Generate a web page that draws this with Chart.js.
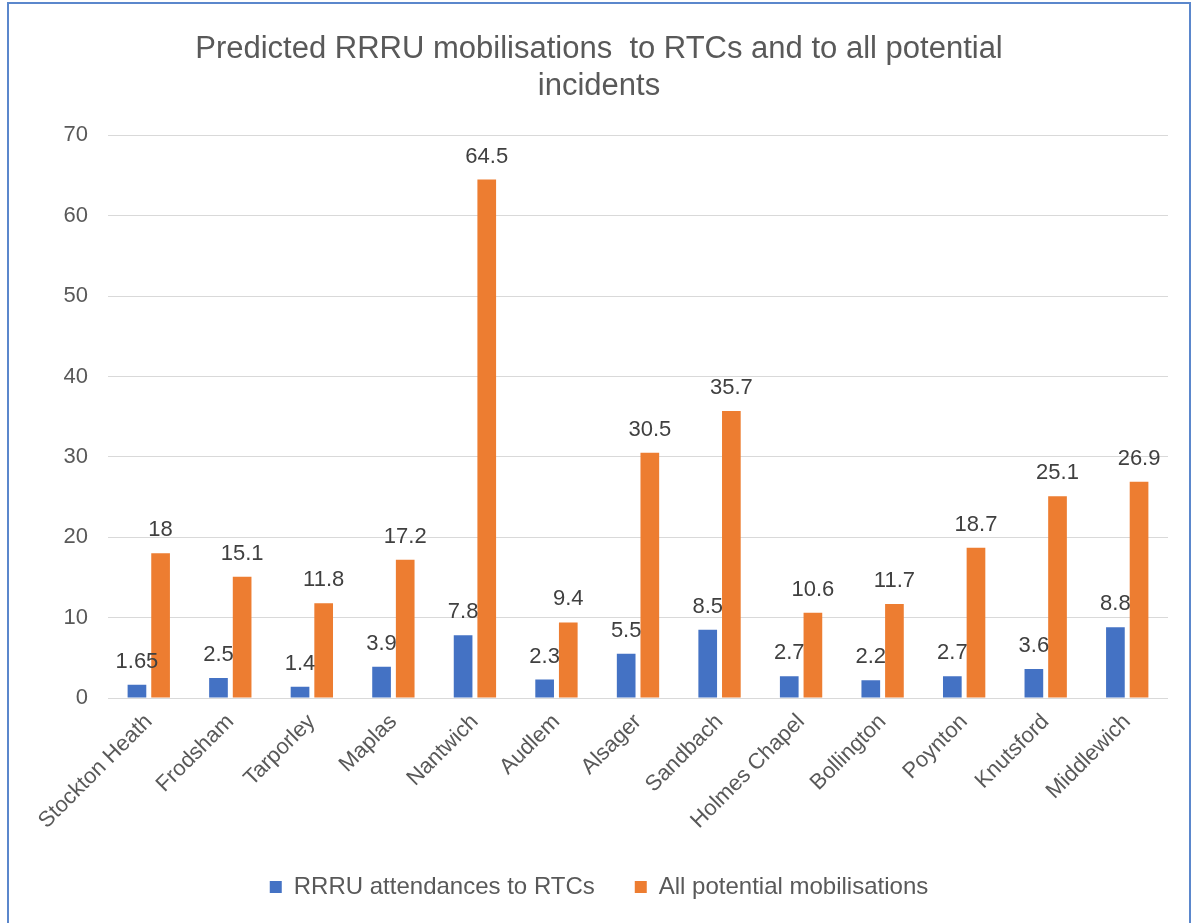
<!DOCTYPE html>
<html>
<head>
<meta charset="utf-8">
<script src="https://cdn.jsdelivr.net/npm/chart.js@4"></script>
<style>
  body { margin: 0; background: #fff; overflow: hidden; }
  #frame {
    position: absolute; left: 7px; top: 2px;
    width: 1184px; height: 940px;
    border: 2px solid #5B87CC; box-sizing: border-box;
  }
  #chart { display: block; }
</style>
</head>
<body>
<div id="frame"><canvas id="chart" width="1180" height="921"></canvas></div>
<script>
const stations = ['Stockton Heath', 'Frodsham', 'Tarporley', 'Maplas', 'Nantwich', 'Audlem',
  'Alsager', 'Sandbach', 'Holmes Chapel', 'Bollington', 'Poynton', 'Knutsford', 'Middlewich'];
const rtcAttendances = [1.65, 2.5, 1.4, 3.9, 7.8, 2.3, 5.5, 8.5, 2.7, 2.2, 2.7, 3.6, 8.8];
const allMobilisations = [18, 15.1, 11.8, 17.2, 64.5, 9.4, 30.5, 35.7, 10.6, 11.7, 18.7, 25.1, 26.9];
const yTicks = [0, 10, 20, 30, 40, 50, 60, 70];

const fontFamily = '"Liberation Sans", Arial, sans-serif';
const grey = '#595959';

// draws the value above every bar
const barLabels = {
  id: 'barLabels',
  afterDatasetsDraw(chart) {
    const ctx = chart.ctx;
    ctx.save();
    ctx.font = '22px ' + fontFamily;
    ctx.fillStyle = '#404040';
    ctx.textAlign = 'center';
    ctx.textBaseline = 'alphabetic';
    chart.data.datasets.forEach((ds, i) => {
      chart.getDatasetMeta(i).data.forEach((bar, j) => {
        ctx.fillText(String(ds.data[j]), bar.x, bar.y - 17);
      });
    });
    ctx.restore();
  }
};

new Chart(document.getElementById('chart'), {
  type: 'bar',
  data: {
    labels: stations,
    datasets: [
      { label: 'RRRU attendances to RTCs', data: rtcAttendances, backgroundColor: '#4472C4' },
      { label: 'All potential mobilisations', data: allMobilisations, backgroundColor: '#ED7D31' }
    ]
  },
  options: {
    responsive: false,
    animation: false,
    categoryPercentage: 0.58,
    barPercentage: 0.79,
    layout: { padding: { left: 21, right: 21, top: 0, bottom: 16 } },
    plugins: {
      title: {
        display: true,
        text: ['Predicted RRRU mobilisations  to RTCs and to all potential', 'incidents'],
        color: grey,
        font: { family: fontFamily, size: 31, weight: 'normal', lineHeight: 1.2 },
        padding: { top: 27, bottom: 30 }
      },
      legend: {
        position: 'bottom',
        labels: {
          color: grey,
          font: { family: fontFamily, size: 24 },
          boxWidth: 12, boxHeight: 12,
          padding: 40
        }
      },
      tooltip: { enabled: false }
    },
    scales: {
      x: {
        afterFit(scale) { scale.height = 137; },
        grid: { display: false },
        border: { display: false },
        ticks: {
          color: grey,
          font: { family: fontFamily, size: 22 },
          minRotation: 45, maxRotation: 45,
          autoSkip: false
        }
      },
      y: {
        min: 0, max: 70,
        afterBuildTicks(scale) { scale.ticks = yTicks.map(v => ({ value: v })); },
        afterFit(scale) { scale.width = 78; },
        grid: { color: '#D9D9D9', drawTicks: false },
        border: { display: false },
        ticks: {
          color: grey,
          font: { family: fontFamily, size: 22 },
          padding: 20
        }
      }
    }
  },
  plugins: [barLabels]
});
</script>
</body>
</html>
